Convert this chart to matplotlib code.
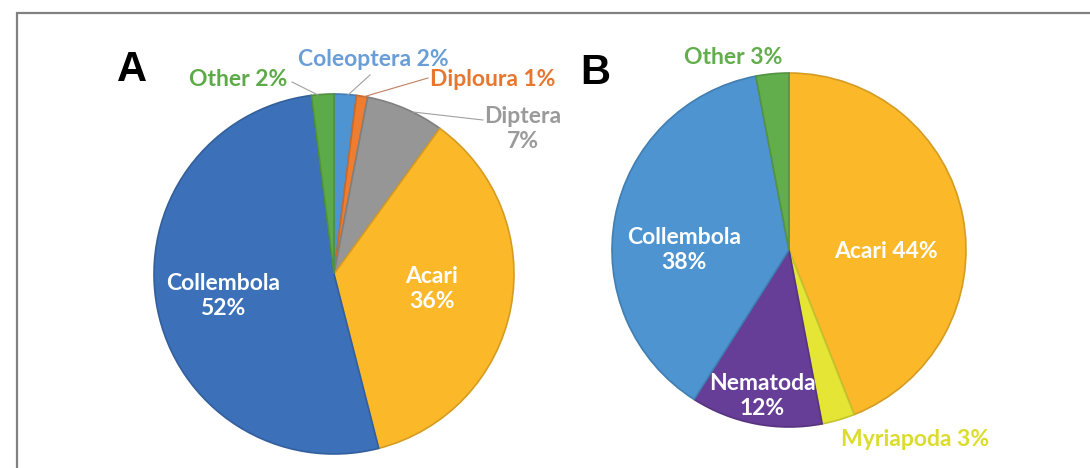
import matplotlib
matplotlib.use("Agg")
import matplotlib.pyplot as plt
from matplotlib.colors import to_rgb

# panel A (clockwise from 12 o'clock)
a_labels = ["Coleoptera", "Diploura", "Diptera", "Acari", "Collembola", "Other"]
a_values = [2, 1, 7, 36, 52, 2]
a_colors = ["#4E93D2", "#ED7D31", "#969696", "#FBB829", "#3C70B8", "#5DAA48"]

# panel B (clockwise from 12 o'clock)
b_labels = ["Acari", "Myriapoda", "Nematoda", "Collembola", "Other"]
b_values = [44, 3, 12, 38, 3]
b_colors = ["#FBB829", "#E4E535", "#663D97", "#4D94D0", "#62AD4C"]

W, H = 1090, 468
FONT = ["Lato", "DejaVu Sans"]


def darker(c, f=0.85):
    r, g, b = to_rgb(c)
    return (r * f, g * f, b * f)


def Y(y):  # image row -> data y
    return H - y


fig = plt.figure(figsize=(W / 100, H / 100), dpi=100)
ax = fig.add_axes([0, 0, 1, 1])


def draw_pie(values, colors, cx, cy, r):
    wedges, _ = ax.pie(values, colors=colors, startangle=90, counterclock=False,
                       center=(cx, Y(cy)), radius=r, frame=False)
    for w, c in zip(wedges, colors):
        w.set_edgecolor(darker(c))
        w.set_linewidth(1.2)
    return wedges


draw_pie(a_values, a_colors, 334, 274, 180)
draw_pie(b_values, b_colors, 789, 250, 177)

ax.set_xlim(0, W)
ax.set_ylim(0, H)
ax.set_aspect("equal")
ax.axis("off")

# frame round the figure
ax.plot([16.5, 16.5, W + 5], [-5, Y(12.5), Y(12.5)], color="#808080", lw=1.6,
        solid_joinstyle="miter", clip_on=False)

# panel letters
ax.text(132, Y(70), "A", fontsize=30, fontweight="bold", ha="center", va="center",
        family=["Liberation Sans", "DejaVu Sans"])
ax.text(595, Y(73), "B", fontsize=30, fontweight="bold", ha="center", va="center",
        family=["Liberation Sans", "DejaVu Sans"])


def lab(x, y, s, color, size=16.5):
    ax.text(x, Y(y), s, fontsize=size, fontweight="bold", color=color,
            ha="center", va="center", family=FONT, linespacing=1.25)


def leader(x0, y0, x1, y1, color="#A0A0A0"):
    ax.plot([x0, x1], [Y(y0), Y(y1)], color=color, lw=0.8)


# panel A labels
lab(223, 296, f"{a_labels[4]}\n{a_values[4]}%", "white")
lab(432, 289, f"{a_labels[3]}\n{a_values[3]}%", "white")
lab(373, 59, f"{a_labels[0]} {a_values[0]}%", "#6A9ED6")
lab(493, 80, f"{a_labels[1]} {a_values[1]}%", "#E8772E")
lab(238, 80, f"{a_labels[5]} {a_values[5]}%", "#5DAA48")
lab(523, 129, f"{a_labels[2]}\n{a_values[2]}%", "#9A9A9A")
leader(292, 82, 318, 95)
leader(370, 75, 348, 95)
leader(428, 78, 363, 97, "#C08060")
leader(483, 120, 413, 112)

# panel B labels
lab(733, 57, f"{b_labels[4]} {b_values[4]}%", "#62AD4C")
lab(684, 250, f"{b_labels[3]}\n{b_values[3]}%", "white")
lab(886, 252, f"{b_labels[0]} {b_values[0]}%", "white")
lab(762, 396, f"{b_labels[2]}\n{b_values[2]}%", "white")
lab(915, 440, f"{b_labels[1]} {b_values[1]}%", "#DCDC2E")

fig.savefig("out.png", dpi=100)
